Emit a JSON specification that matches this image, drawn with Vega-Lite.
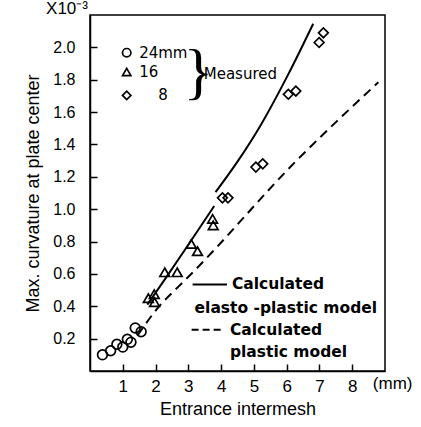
{
  "$schema": "https://vega.github.io/schema/vega-lite/v6.json",
  "autosize": {"type": "none"},
  "width": 295,
  "height": 356,
  "padding": {"left": 90, "top": 15, "right": 36, "bottom": 56},
  "config": {
    "view": {"stroke": "black", "strokeWidth": 1.5},
    "axis": {"grid": false, "domainColor": "black", "domainWidth": 1.5, "tickColor": "black", "tickWidth": 1.5, "labelColor": "black", "titleColor": "black", "labelFont": "Liberation Sans", "titleFont": "Liberation Sans", "titleFontWeight": "normal", "labelOverlap": false}
  },
  "datasets": {
    "measured": [
      {"x": 0.38, "y": 0.10, "t": "24mm"},
      {"x": 0.63, "y": 0.125, "t": "24mm"},
      {"x": 0.82, "y": 0.165, "t": "24mm"},
      {"x": 1.0, "y": 0.148, "t": "24mm"},
      {"x": 1.14, "y": 0.196, "t": "24mm"},
      {"x": 1.25, "y": 0.178, "t": "24mm"},
      {"x": 1.38, "y": 0.266, "t": "24mm"},
      {"x": 1.56, "y": 0.243, "t": "24mm"},
      {"x": 1.78, "y": 0.45, "t": "16"},
      {"x": 1.96, "y": 0.475, "t": "16"},
      {"x": 1.97, "y": 0.425, "t": "16"},
      {"x": 2.28, "y": 0.61, "t": "16"},
      {"x": 2.66, "y": 0.61, "t": "16"},
      {"x": 3.09, "y": 0.785, "t": "16"},
      {"x": 3.28, "y": 0.74, "t": "16"},
      {"x": 3.74, "y": 0.94, "t": "16"},
      {"x": 3.76, "y": 0.90, "t": "16"},
      {"x": 4.04, "y": 1.07, "t": "8"},
      {"x": 4.21, "y": 1.07, "t": "8"},
      {"x": 5.06, "y": 1.26, "t": "8"},
      {"x": 5.27, "y": 1.28, "t": "8"},
      {"x": 6.05, "y": 1.71, "t": "8"},
      {"x": 6.28, "y": 1.73, "t": "8"},
      {"x": 6.99, "y": 2.03, "t": "8"},
      {"x": 7.12, "y": 2.09, "t": "8"}
    ],
    "elasto": [
      {"x": 1.75, "y": 0.41, "seg": "a"},
      {"x": 2.33, "y": 0.58, "seg": "a"},
      {"x": 3.0, "y": 0.78, "seg": "a"},
      {"x": 3.79, "y": 1.02, "seg": "a"},
      {"x": 3.83, "y": 1.105, "seg": "b"},
      {"x": 4.52, "y": 1.30, "seg": "b"},
      {"x": 5.18, "y": 1.51, "seg": "b"},
      {"x": 6.04, "y": 1.83, "seg": "b"},
      {"x": 6.81, "y": 2.146, "seg": "b"}
    ],
    "plastic": [
      {"x": 1.45, "y": 0.22},
      {"x": 2.07, "y": 0.39},
      {"x": 2.69, "y": 0.52},
      {"x": 3.04, "y": 0.59},
      {"x": 6.3, "y": 1.30},
      {"x": 8.8, "y": 1.785}
    ],
    "legendSymbols": [
      {"x": 1.12, "y": 1.967, "t": "24mm"},
      {"x": 1.12, "y": 1.848, "t": "16"},
      {"x": 1.12, "y": 1.703, "t": "8"}
    ],
    "legendText": [
      {"x": 1.5, "y": 1.967, "text": "24mm"},
      {"x": 1.5, "y": 1.848, "text": "16"},
      {"x": 2.08, "y": 1.703, "text": "8"},
      {"x": 3.47, "y": 1.837, "text": "Measured"}
    ],
    "labels": [
      {"x": 4.33, "y": 0.54, "text": "Calculated"},
      {"x": 3.19, "y": 0.39, "text": "elasto -plastic model"},
      {"x": 4.27, "y": 0.255, "text": "Calculated"},
      {"x": 4.27, "y": 0.12, "text": "plastic model"}
    ],
    "keyLines": [
      {"x": 3.13, "x2": 4.18, "y": 0.535, "style": "solid"},
      {"x": 3.1, "x2": 4.08, "y": 0.255, "style": "dashed"}
    ]
  },
  "layer": [
    {
      "data": {"name": "plastic"},
      "mark": {"type": "line", "color": "black", "strokeWidth": 2, "strokeDash": [9, 6], "interpolate": "monotone"},
      "encoding": {
        "x": {"field": "x", "type": "quantitative", "scale": {"domain": [0, 9], "nice": false, "zero": false},
          "axis": {"values": [1, 2, 3, 4, 5, 6, 7, 8], "tickCount": 12, "tickSize": -7, "labelPadding": 14, "labelFontSize": 17, "labelOverlap": false, "title": "Entrance intermesh", "titleFontSize": 18, "titlePadding": 6}},
        "y": {"field": "y", "type": "quantitative", "scale": {"domain": [0, 2.2], "nice": false, "zero": false},
          "axis": {"values": [0.2, 0.4, 0.6, 0.8, 1.0, 1.2, 1.4, 1.6, 1.8, 2.0], "tickCount": 12, "format": ".1f", "tickSize": -7, "labelPadding": 22, "labelFontSize": 16, "labelOverlap": false, "title": "Max. curvature at plate center", "titleFontSize": 18, "titlePadding": 10}}
      }
    },
    {
      "data": {"name": "elasto"},
      "mark": {"type": "line", "color": "black", "strokeWidth": 2, "interpolate": "monotone"},
      "encoding": {
        "x": {"field": "x", "type": "quantitative"},
        "y": {"field": "y", "type": "quantitative"},
        "detail": {"field": "seg"}
      }
    },
    {
      "data": {"name": "measured"},
      "mark": {"type": "point", "filled": false, "color": "black", "strokeWidth": 1.7, "size": 95, "opacity": 1},
      "encoding": {
        "x": {"field": "x", "type": "quantitative"},
        "y": {"field": "y", "type": "quantitative"},
        "shape": {"field": "t", "type": "nominal", "scale": {"domain": ["24mm", "16", "8"], "range": ["circle", "triangle-up", "diamond"]}, "legend": null}
      }
    },
    {
      "data": {"name": "legendSymbols"},
      "mark": {"type": "point", "filled": false, "color": "black", "strokeWidth": 1.7, "size": 70, "opacity": 1},
      "encoding": {
        "x": {"field": "x", "type": "quantitative"},
        "y": {"field": "y", "type": "quantitative"},
        "shape": {"field": "t", "type": "nominal", "legend": null}
      }
    },
    {
      "data": {"name": "keyLines"},
      "mark": {"type": "rule", "color": "black", "strokeWidth": 2},
      "encoding": {
        "x": {"field": "x", "type": "quantitative"},
        "x2": {"field": "x2"},
        "y": {"field": "y", "type": "quantitative"},
        "strokeDash": {"field": "style", "type": "nominal", "scale": {"domain": ["solid", "dashed"], "range": [[1, 0], [7, 4]]}, "legend": null}
      }
    },
    {
      "data": {"name": "legendText"},
      "mark": {"type": "text", "align": "left", "baseline": "middle", "font": "DejaVu Sans", "fontSize": 15, "color": "black"},
      "encoding": {
        "x": {"field": "x", "type": "quantitative"},
        "y": {"field": "y", "type": "quantitative"},
        "text": {"field": "text"}
      }
    },
    {
      "data": {"name": "labels"},
      "mark": {"type": "text", "align": "left", "baseline": "middle", "font": "DejaVu Sans", "fontSize": 15.5, "fontWeight": "bold", "color": "black"},
      "encoding": {
        "x": {"field": "x", "type": "quantitative"},
        "y": {"field": "y", "type": "quantitative"},
        "text": {"field": "text"}
      }
    },
    {
      "data": {"values": [{"x": 3.31, "y": 1.84, "text": "}"}]},
      "mark": {"type": "text", "align": "center", "baseline": "middle", "font": "Liberation Serif", "fontSize": 62, "color": "black"},
      "encoding": {
        "x": {"field": "x", "type": "quantitative"},
        "y": {"field": "y", "type": "quantitative"},
        "text": {"field": "text"}
      }
    },
    {
      "data": {"values": [{"x": -1.34, "y": 2.24, "text": "X10⁻³"}, {"x": 8.63, "y": -0.078, "text": "(mm)"}]},
      "mark": {"type": "text", "align": "left", "baseline": "middle", "font": "Liberation Sans", "fontSize": 17, "color": "black"},
      "encoding": {
        "x": {"field": "x", "type": "quantitative"},
        "y": {"field": "y", "type": "quantitative"},
        "text": {"field": "text"}
      }
    }
  ]
}
